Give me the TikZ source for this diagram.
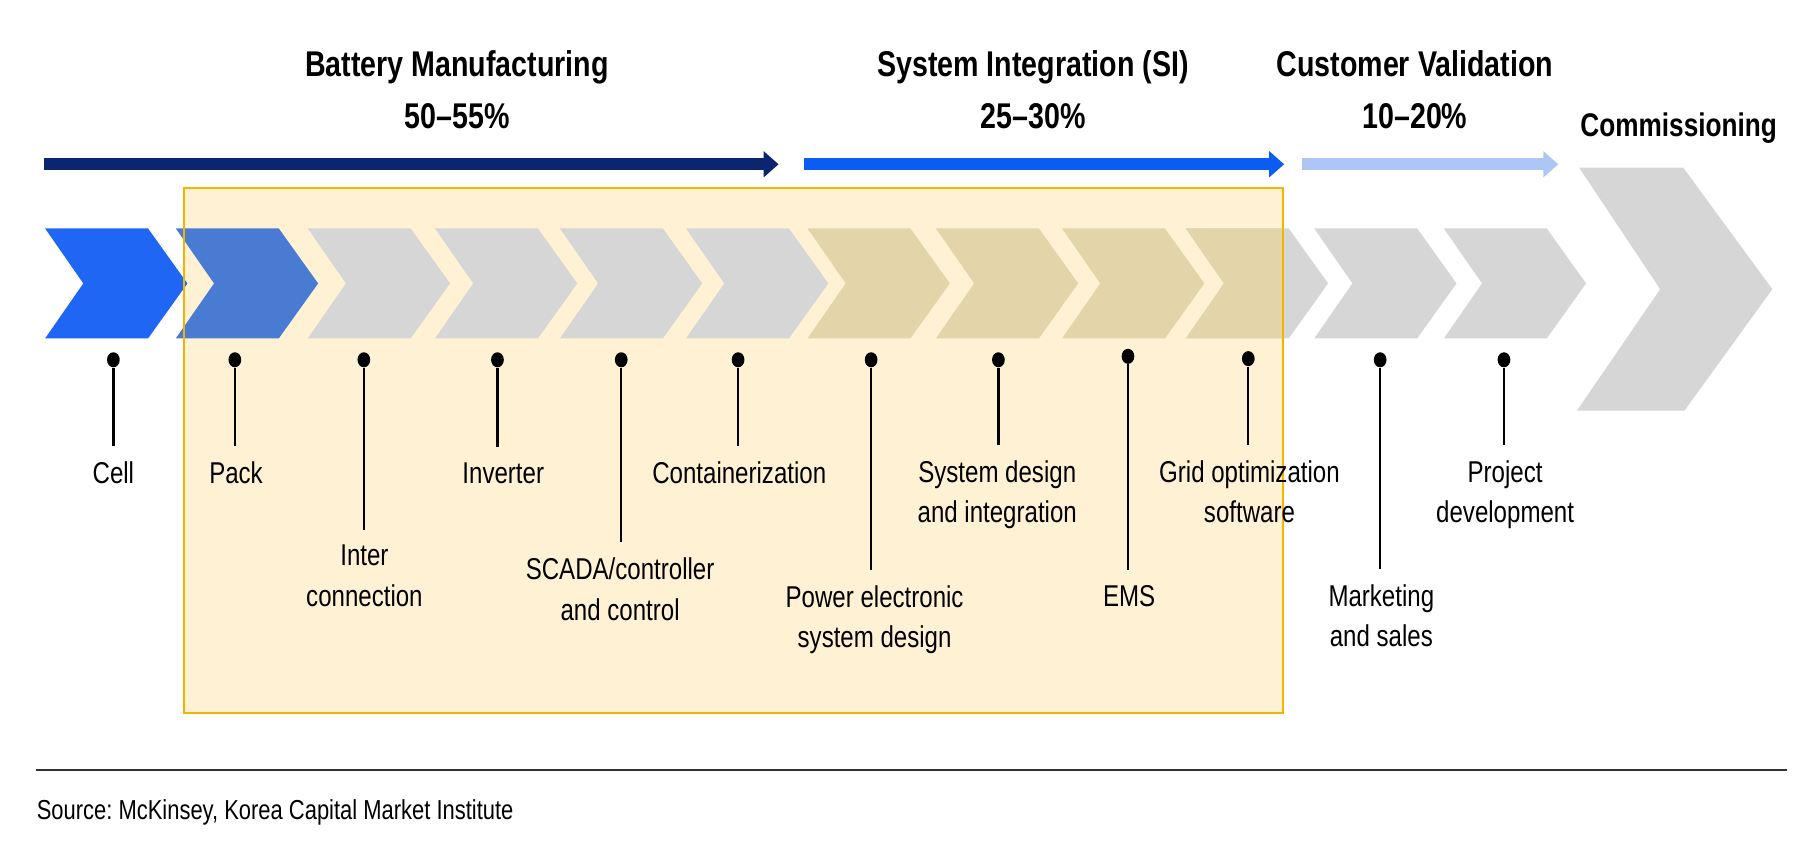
\documentclass[tikz,border=0pt]{standalone}
\usepackage{fontspec}
\setmainfont{Liberation Sans}[FakeStretch=0.8]
\usetikzlibrary{arrows.meta, shapes.geometric}
\frenchspacing
\definecolor{cellblue}{HTML}{1F66F4}
\definecolor{packblue}{HTML}{4A7BD3}
\definecolor{stepgrey}{HTML}{D6D6D6}
\definecolor{steptan}{HTML}{E3D5A9}
\definecolor{boxcream}{HTML}{FFF2D4}
\definecolor{boxorange}{HTML}{F4B400}
\definecolor{navy}{HTML}{0B2570}
\definecolor{siblue}{HTML}{0B5CF0}
\definecolor{cvblue}{HTML}{AEC6F5}
\tikzset{
  phase/.style={line width=0.2cm, -{Triangle[length=0.26cm, width=0.44cm]}},
  ttl/.style={font=\fontsize{17.6}{25.4}\selectfont\bfseries, align=center, anchor=base, inner sep=0},
  lbl/.style={font=\fontsize{14.8}{19.9}\selectfont, align=center, anchor=base, inner xsep=0, inner ysep=0.26cm},
  pindot/.style={ellipse, fill=black, inner sep=0, minimum width=0.22cm, minimum height=0.26cm},
  pinline/.style={line width=0.04cm}
}
\newcommand{\chev}[2]{\fill[#2] (#1,197.5) -- ++(89,0) -- ++(34,47.5) -- ++(-34,47.5) -- ++(-89,0) -- ++(33,-47.5) -- cycle;}
% #5 is the baseline of the last line of the label
\newcommand{\pin}[6]{\node[pindot] (d#1) at (#2,#3) {};
  \node[lbl] (l#1) at (#4,#5) {#6};
  \draw[pinline] (d#1) -- (d#1 |- l#1.north);}

\begin{document}
\begin{tikzpicture}[x=0.02cm, y=-0.02cm]
\useasboundingbox (0,0) rectangle (1568,749);
% highlighted box
\fill[boxcream] (159,162.5) rectangle (1109,616.5);
% value chain
\chev{39}{cellblue}
\chev{152}{packblue}
\chev{266}{stepgrey}
\chev{376}{stepgrey}
\chev{484}{stepgrey}
\chev{593}{stepgrey}
\chev{698}{steptan}
\chev{809}{steptan}
\chev{918}{steptan}
\chev{1025}{stepgrey}
\chev{1136}{stepgrey}
\chev{1248}{stepgrey}
\fill[stepgrey] (1365,145) -- (1455,145) -- (1532,250) -- (1456,355) -- (1363,355) -- (1435,250) -- cycle;
\begin{scope}
\clip (159,162.5) rectangle (1109,616.5);
\chev{1025}{steptan}
\end{scope}
\draw[boxorange, line width=0.04cm] (159,162.5) rectangle (1109,616.5);
% phases
\coordinate (bat0) at (38,142); \coordinate (bat1) at (673,142);
\coordinate (si0) at (695,142); \coordinate (si1) at (1110,142);
\coordinate (cv0) at (1125,142); \coordinate (cv1) at (1347,142);
\draw[phase, navy] (bat0) -- (bat1);
\draw[phase, siblue] (si0) -- (si1);
\draw[phase, cvblue] (cv0) -- (cv1);
\node[ttl] (bat) at (395,110.9) {Battery Manufacturing\\50--55\%};
\node[ttl] (si) at (893,110.9) {System Integration (SI)\\25--30\%};
\node[ttl] (cv) at (1223,110.9) {Customer Validation\\10--20\%};
\node[ttl, font=\fontsize{16.1}{20}\selectfont\bfseries] (com) at (1451,118) {Commissioning};
% pins
\pin{cell}{98}{311}{98}{418}{Cell}
\pin{pack}{203}{311}{204}{418}{Pack}
\pin{inter}{314.5}{311}{315}{524}{Inter\\connection}
\pin{inv}{430}{311}{435}{418}{Inverter}
\pin{scada}{537}{311}{536}{536}{SCADA/controller\\and control}
\pin{cont}{638}{311}{639}{418}{Containerization}
\pin{power}{753}{311}{756}{560}{Power electronic\\system design}
\pin{sysd}{863}{311}{862}{452}{System design\\and integration}
\pin{ems}{975}{308}{976}{524}{EMS}
\pin{grid}{1079}{310}{1080}{452}{Grid optimization\\software}
\pin{mkt}{1193}{311}{1194}{559}{Marketing\\and sales}
\pin{proj}{1300}{311}{1301}{452}{Project\\development}
% source
\coordinate (r0) at (31.5,665.5); \coordinate (r1) at (1545,665.5);
\draw[line width=0.025cm, black!80] (r0) -- (r1);
\node[anchor=base west, inner sep=0, font=\fontsize{13.5}{16}\selectfont] (src) at (31.5,708.7) {Source: McKinsey, Korea Capital Market Institute};
\end{tikzpicture}
\end{document}
